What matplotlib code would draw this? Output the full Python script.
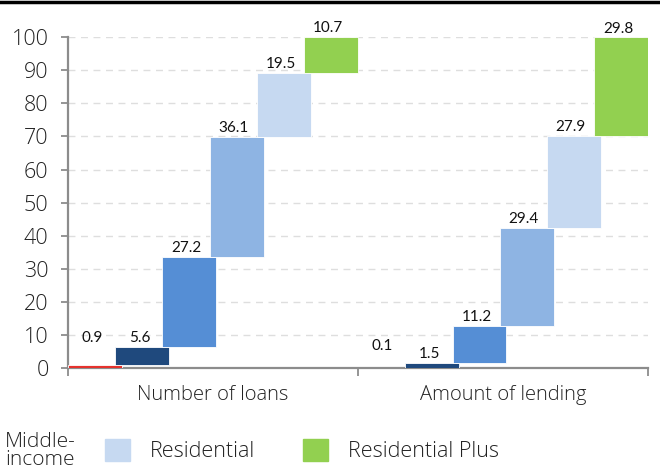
import matplotlib.pyplot as plt
from matplotlib.lines import Line2D
from matplotlib.patches import Patch

plt.rcParams['font.family'] = ['Lato', 'DejaVu Sans']
axis_font = ['Open Sans', 'DejaVu Sans']

groups = ['Number of loans', 'Amount of lending']
loans = [0.9, 5.6, 27.2, 36.1, 19.5, 10.7]
lending = [0.1, 1.5, 11.2, 29.4, 27.9, 29.8]
colors = ['#e5322d', '#1f497d', '#558ed5', '#8eb4e3', '#c6d9f1', '#92d050']
legend_labels = ['Residential', 'Residential Plus']

fig = plt.figure(figsize=(6.6, 4.74), dpi=100)
ax = fig.add_axes([0.103, 0.2236, 0.879, 0.698])

step = 0.1625
width = 0.186
for g, vals in enumerate([loans, lending]):
    base = 0
    tops = []
    for k, v in enumerate(vals):
        x = g + 0.5 + (k - 2.5) * step
        ax.bar(x, v, width, bottom=base, color=colors[k], edgecolor='white',
               linewidth=0.6, zorder=3)
        base += v
        tops.append((x, base))
    for k, v in enumerate(vals):
        x, top = tops[k]
        y = top
        if k == 0:
            y = max(tops[1][1], 4.0)
        ax.text(x - 0.01, y + 0.6, f'{v:.1f}', ha='center', va='bottom',
                fontsize=11, color='#111111', zorder=4, clip_on=False)

ax.set_xlim(0, 2)
ax.set_ylim(0, 100)
ax.set_yticks(range(0, 101, 10))
ax.set_xticks([0, 1, 2])
ax.set_xticklabels([])
ax.set_xticks([0.5, 1.5], minor=True)
ax.set_xticklabels(groups, minor=True)
ax.tick_params(axis='x', which='minor', length=0, pad=12, labelsize=14.5,
               labelcolor='#222222')
ax.tick_params(axis='x', which='major', length=6, width=1.3, color='#8c8c8c')
ax.tick_params(axis='y', length=5, width=1.3, color='#8c8c8c', pad=9,
               labelsize=15.5, labelcolor='#222222')
for lab in ax.get_yticklabels() + ax.get_xticklabels(minor=True):
    lab.set_family(axis_font)
    lab.set_fontweight('light')

ax.grid(axis='y', color='#dedede', linestyle=(0, (5, 4)), linewidth=1, zorder=0)
for s in ['top', 'right']:
    ax.spines[s].set_visible(False)
for s in ['left', 'bottom']:
    ax.spines[s].set_color('#8c8c8c')
    ax.spines[s].set_linewidth(1.6)

fig.add_artist(Line2D([0, 1], [0.996, 0.996], color='black', lw=2.5))

fig.text(0.008, 0.049, 'Middle-\nincome', ha='left', va='center',
         fontsize=15, fontweight='light', family=axis_font,
         linespacing=0.85, color='#222222')
handles = [Patch(color=colors[4]), Patch(color=colors[5])]
leg = fig.legend(handles, legend_labels, loc='center left',
                 bbox_to_anchor=(0.159, 0.049), ncol=2, frameon=False,
                 borderpad=0, borderaxespad=0, handlelength=1.17,
                 handleheight=1.17, handletextpad=0.93, columnspacing=2.2,
                 prop={'size': 15.5, 'weight': 'light', 'family': axis_font})
for t in leg.get_texts():
    t.set_color('#222222')

fig.savefig('out.png', dpi=100)
